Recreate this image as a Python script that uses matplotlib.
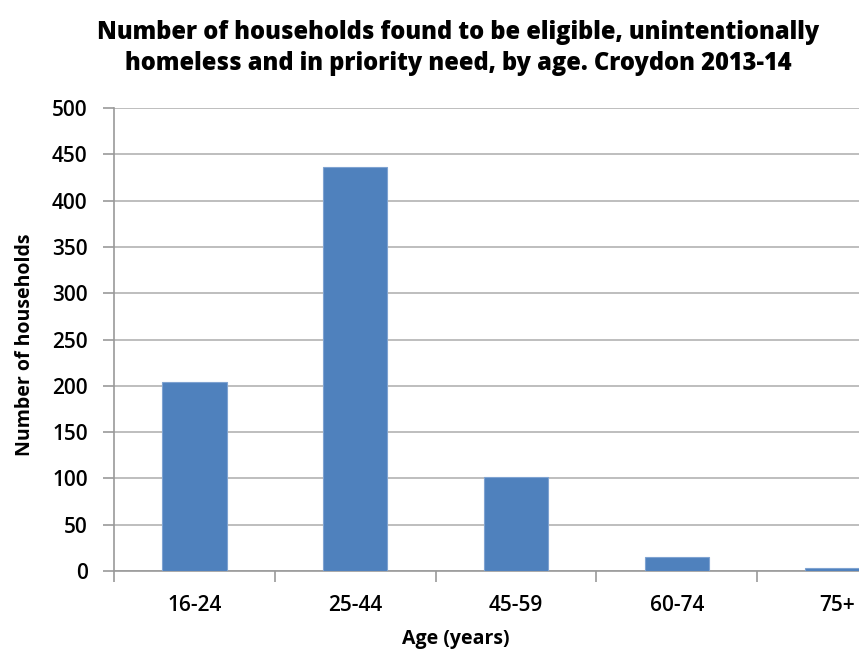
import numpy as np
import matplotlib.pyplot as plt

age_groups = ['16-24', '25-44', '45-59', '60-74', '75+']
households = [204, 436, 102, 15, 3]
y_ticks = list(range(0, 501, 50))

plt.rcParams['font.family'] = ['Open Sans', 'DejaVu Sans']

fig = plt.figure(figsize=(8.59, 6.52), dpi=100)
# axes run past the right edge, so the last bar is cut off
ax = fig.add_axes([114 / 859, 1 - 571 / 652, 804 / 859, 463 / 652])

x = np.arange(len(age_groups))
ax.bar(x, households, width=0.4, color='#4F81BD', edgecolor='#7FA3D1',
       linewidth=0.8, zorder=3)

ax.set_xlim(-0.5, len(age_groups) - 0.5)
ax.set_ylim(0, 500)
ax.set_yticks(y_ticks)
ax.set_xticks(x)
ax.set_xticklabels(age_groups)
ax.set_xticks(np.arange(len(age_groups) + 1) - 0.5, minor=True)

ax.grid(axis='y', color='#b3b3b3', linewidth=1.2, zorder=0)
for side in ('top', 'right'):
    ax.spines[side].set_visible(False)
for side in ('left', 'bottom'):
    ax.spines[side].set_color('#999999')
    ax.spines[side].set_linewidth(1.2)

ax.tick_params(axis='y', length=8, width=1.2, color='#999999',
               labelsize=15, pad=11)
ax.tick_params(axis='x', which='major', length=0, labelsize=15, pad=17)
ax.tick_params(axis='x', which='minor', length=8, width=1.2, color='#999999')
for lbl in ax.get_xticklabels() + ax.get_yticklabels():
    lbl.set_fontweight('semibold')
    lbl.set_color('black')

ax.set_ylabel('Number of households', fontsize=14, fontweight='bold',
              va='center')
ax.yaxis.set_label_coords(-(114 - 25) / 804, (571 - 345) / 463)
ax.set_xlabel('Age (years)', fontsize=14, fontweight='bold', va='center')
ax.xaxis.set_label_coords((456 - 114) / 804, -(639 - 571) / 463)

fig.text(458 / 859, 1 - 48 / 652,
         'Number of households found to be eligible, unintentionally\n'
         'homeless and in priority need, by age. Croydon 2013-14',
         ha='center', va='center', fontsize=17, fontweight='heavy',
         linespacing=1.35)

fig.savefig('out.png', dpi=100)
